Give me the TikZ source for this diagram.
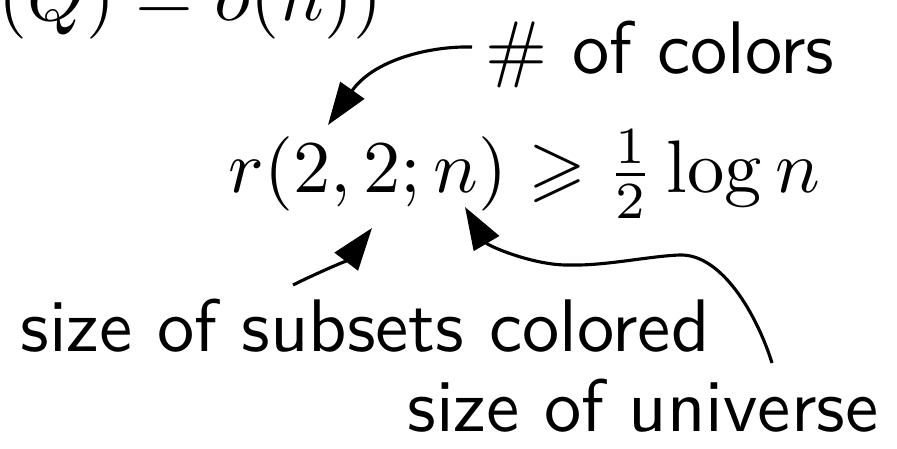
\documentclass[tikz,border=0pt]{standalone}
\usepackage{amssymb}
\usetikzlibrary{arrows.meta,calc}
\begin{document}
\begin{tikzpicture}[x=0.1343pt,y=-0.1343pt,
  lbl/.style={font=\sffamily\fontsize{10}{12}\selectfont, inner sep=0pt, anchor=base west},
  mth/.style={font=\fontsize{10}{12}\selectfont, inner sep=0pt, anchor=base west},
  arr/.style={line width=0.42pt, -{Triangle[length=5.7pt,width=3.9pt]}}]
\useasboundingbox (0,0) rectangle (897,449);
\clip (0,0) rectangle (897,449);
\node[mth] (top) at (-3,21) {$(Q) = o(n))$};
\node[lbl] (colors) at (484,74) {\# of colors};
\node[mth] (ineq) at (227,193) {$r(2,2;n) \geqslant \frac{1}{2}\log n$};
\node[lbl] (subsets) at (19,352) {size of subsets colored};
\node[lbl] (universe) at (406,432) {size of universe};
\coordinate (tipA) at (328,125);
\coordinate (tipB) at (372,228);
\coordinate (tipC) at (465,207);
\draw[arr] ($(colors.base west)+(-12,-27)$) .. controls (430,46) and (374,59.5) .. (tipA);
\draw[arr] ($(subsets.base west)+(274,-67)$) .. controls (315,274) and (347.5,260) .. (tipB);
\draw[arr] ($(universe.base west)+(366,-69)$) .. controls (757,315) and (722,254) .. (680,255)
   .. controls (650,256) and (605,266) .. (570,265)
   .. controls (535,266) and (488,246) .. (tipC);
\end{tikzpicture}
\end{document}
